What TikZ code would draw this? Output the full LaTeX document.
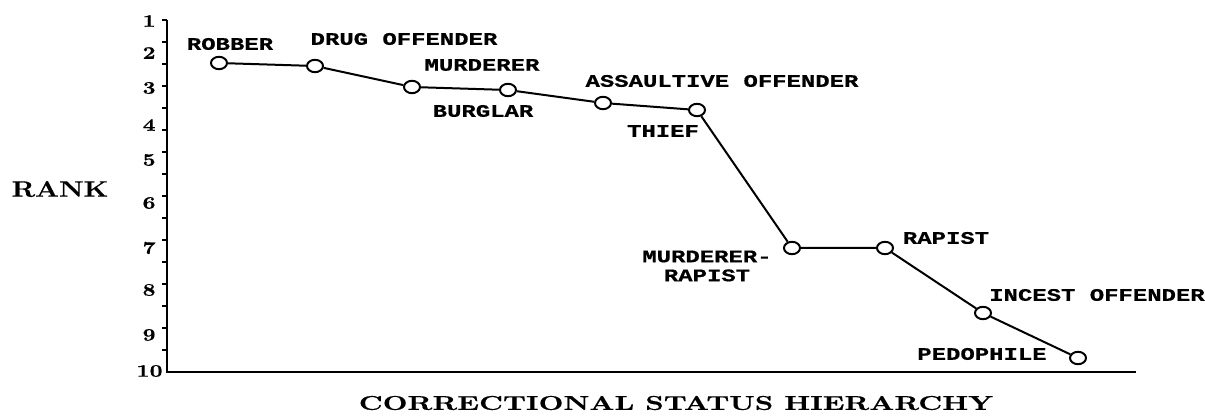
\documentclass[tikz,border=0pt]{standalone}
\usepackage{fontspec}
\usetikzlibrary{shapes.geometric}
\newfontfamily\lblfont[FakeStretch=1.36,FakeBold=0.6]{Liberation Mono}
\newfontfamily\rankfont[FakeStretch=1.25,FakeBold=0.5]{Latin Modern Roman}
\newfontfamily\titlefont[FakeStretch=1.44,FakeBold=0.4]{Latin Modern Roman}
\begin{document}
\begin{tikzpicture}[x=0.5pt,y=-0.5pt,
  pt/.style={ellipse,draw,line width=1pt,fill=white,minimum width=8pt,minimum height=6.2pt,inner sep=0pt},
  lbl/.style={font=\lblfont\bfseries\fontsize{8.8}{9.5}\selectfont,inner sep=0pt,align=center},
  num/.style={font=\rankfont\bfseries\fontsize{8.8}{9}\selectfont,inner sep=0pt,anchor=east},
  conn/.style={line width=1pt},
  axis/.style={line width=1.2pt},
  tick/.style={line width=0.8pt}]
\useasboundingbox (0,0) rectangle (1205,416);
% axes
\coordinate (ytop) at (167,20);
\coordinate (orig) at (167,372);
\coordinate (xend) at (1136,372);
\draw[axis] (ytop) -- (orig) -- (xend);
\foreach \k in {1,...,16}{
  \draw[tick] (167,{372-22*\k}) -- ++(-5,0);
}
% axis numbers
\node[num] (n1) at (156,21) {1};
\node[num] (n2) at (156,53) {2};
\node[num] (n3) at (156,88) {3};
\node[num] (n4) at (156,125) {4};
\node[num] (n5) at (156,160) {5};
\node[num] (n6) at (156,203) {6};
\node[num] (n7) at (156,248) {7};
\node[num] (n8) at (156,290) {8};
\node[num] (n9) at (156,335) {9};
\node[num] (n10) at (163,371) {10};
% axis titles
\node[font=\rankfont\bfseries\fontsize{11.2}{12}\selectfont,inner sep=0pt] (rank) at (60,189) {RANK};
\node[font=\titlefont\bfseries\fontsize{10}{11}\selectfont,inner sep=0pt] (title) at (676,403) {CORRECTIONAL STATUS HIERARCHY};
% data points
\node[pt] (p1) at (219,63) {};
\node[pt] (p2) at (315,66) {};
\node[pt] (p3) at (412,87) {};
\node[pt] (p4) at (508,90) {};
\node[pt] (p5) at (603,103) {};
\node[pt] (p6) at (697,110) {};
\node[pt] (p7) at (792,248) {};
\node[pt] (p8) at (885,248) {};
\node[pt] (p9) at (983,313) {};
\node[pt] (p10) at (1078,358) {};
\draw[conn] (p1) -- (p2) -- (p3) -- (p4) -- (p5) -- (p6) -- (p7) -- (p8) -- (p9) -- (p10);
% labels
\node[lbl] (l1) at (230,44) {ROBBER};
\node[lbl] (l2) at (404,39) {DRUG OFFENDER};
\node[lbl] (l3) at (482,65) {MURDERER};
\node[lbl] (l4) at (483,111) {BURGLAR};
\node[lbl] (l5) at (722,81) {ASSAULTIVE OFFENDER};
\node[lbl] (l6) at (663,131) {THIEF};
\node[lbl] (l7) at (707,266) {MURDERER-\\RAPIST};
\node[lbl] (l8) at (946,238) {RAPIST};
\node[lbl] (l9) at (1097,295) {INCEST OFFENDER};
\node[lbl] (l10) at (982,354) {PEDOPHILE};
\end{tikzpicture}
\end{document}
